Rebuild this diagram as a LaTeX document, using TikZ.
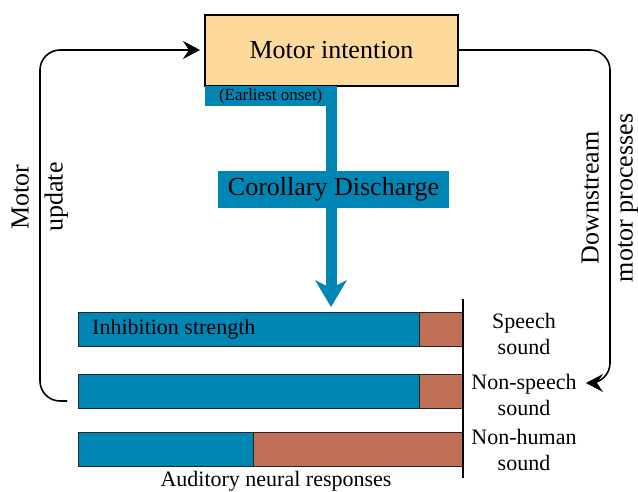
\documentclass[tikz,border=0pt]{standalone}
\usepackage{fontspec}
\setmainfont{Liberation Serif}
\usetikzlibrary{arrows.meta}
\definecolor{cdblue}{RGB}{0,134,180}
\definecolor{brn}{RGB}{192,112,86}
\definecolor{mibox}{RGB}{253,218,155}
\begin{document}
\begin{tikzpicture}[x=1pt,y=1pt,
  blueseg/.style={draw=black!85, line width=1.2pt, fill=cdblue, anchor=north west, inner sep=0pt},
  brnseg/.style={draw=black!85, line width=1.2pt, fill=brn, anchor=north west, inner sep=0pt},
  lbl/.style={font=\fontsize{22}{26}\selectfont, align=center, inner sep=0pt},
  loop/.style={line width=1.6pt, rounded corners=20pt, -{Stealth[length=17pt,width=18pt,inset=6pt]}},
]
\useasboundingbox (0,0) rectangle (638,-491);

% motor intention box
\node[draw=black, line width=2pt, fill=mibox, minimum width=253pt, minimum height=71pt,
      inner sep=0pt, font=\fontsize{26}{30}\selectfont] (mi) at (331.5,-50) {Motor intention};

% earliest onset label
\node[fill=cdblue, minimum width=131pt, minimum height=20pt, inner sep=0pt, anchor=north west,
      font=\fontsize{17}{18}\selectfont] (eo) at (205,-86) {(Earliest onset)};

% corollary discharge stem + arrow
\coordinate (tip) at (331,-307);
\draw[cdblue, line width=11pt, -{Stealth[length=27pt,width=32pt,inset=8pt,line width=0pt]}]
  (eo.north -| tip) -- (tip);

\node[fill=cdblue, minimum width=231pt, minimum height=37pt, inner sep=0pt,
      font=\fontsize{26}{30}\selectfont] (cd) at (333.5,-189.5) {Corollary Discharge};

% bars
\node[blueseg, minimum width=341pt, minimum height=34pt] (b1) at (78,-312) {};
\node[brnseg, minimum width=44pt, minimum height=34pt] (r1) at (419,-312) {};
\node[blueseg, minimum width=341pt, minimum height=34pt] (b2) at (78,-374) {};
\node[brnseg, minimum width=44pt, minimum height=34pt] (r2) at (419,-374) {};
\node[blueseg, minimum width=175pt, minimum height=34pt] (b3) at (78,-432) {};
\node[brnseg, minimum width=210pt, minimum height=34pt] (r3) at (253,-432) {};

\node[lbl, anchor=west] (inh) at (92,-329) {Inhibition strength};

% axis line
\coordinate (axtop) at (463,-299);
\coordinate (axbot) at (463,-478);
\draw[line width=2pt] (axtop) -- (axbot);

% row labels
\node[lbl] (l1) at (524,-333.5) {Speech\\sound};
\node[lbl] (l2) at (524,-395) {Non-speech\\sound};
\node[lbl] (l3) at (524,-450) {Non-human\\sound};

\node[lbl] (adr) at (276,-481) {Auditory neural responses};

% loops
\coordinate (lstart) at (67,-401);
\draw[loop] (lstart) -- (40,-401) -- (40,-50) -- ([xshift=-4pt]mi.west);
\coordinate (rend) at (586,-383);
\draw[loop] (mi.east) -- (610,-50) -- (610,-383) -- (rend);

\node[rotate=90, align=center, font=\fontsize{26}{34}\selectfont, inner sep=0pt] (mu) at (40,-197) {Motor\\update};
\node[rotate=90, align=center, font=\fontsize{26}{34}\selectfont, inner sep=0pt] (dm) at (610,-198) {Downstream\\motor processes};
\end{tikzpicture}
\end{document}
